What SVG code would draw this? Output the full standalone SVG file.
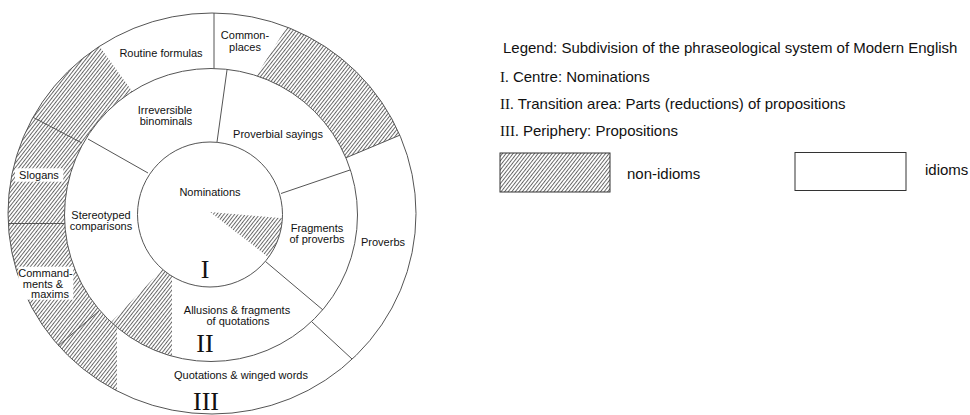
<svg xmlns="http://www.w3.org/2000/svg" width="970" height="415" viewBox="0 0 970 415">
<style>
.t{font-family:"Liberation Sans",Arial,sans-serif;font-size:11px;fill:#111;text-anchor:middle}
.r{font-family:"Liberation Serif","Times New Roman",serif;font-size:26px;fill:#111;text-anchor:middle}
.lg{font-family:"Liberation Sans",Arial,sans-serif;font-size:15px;fill:#111}
.sf{font-family:"Liberation Serif","Times New Roman",serif}
.ln{stroke:#555;stroke-width:1;fill:none}
.h{fill:url(#hatch);stroke:none}
</style>
<defs>
<pattern id="hatch" patternUnits="userSpaceOnUse" width="2.8" height="2.8" patternTransform="rotate(38)">
<rect width="2.8" height="2.8" fill="#fff"/>
<line x1="0.5" y1="0" x2="0.5" y2="2.8" stroke="#444" stroke-width="0.8"/>
</pattern>
</defs>
<rect width="970" height="415" fill="#fff"/>
<g id="hatched-areas">
<path class="h" d="M99.4,46.3 L132.3,91.4 A146.5,146.5 0 0 0 117,327.4 L117,390.9 A204,200.5 0 0 1 99.4,46.3 Z"/>
<path class="h" d="M162.4,269.2 A72.5,72.5 0 0 0 172,276.2 L172,356.2 A146.5,146.5 0 0 1 111.1,322.1 Z"/>
<path class="h" d="M286.8,27 L256.3,75.7 A146.5,146.5 0 0 1 345.9,157.8 L399.8,135.2 A204,200.5 0 0 0 286.8,27 Z"/>
<path class="h" d="M210,212 L282.4,218.3 A72.5,72.5 0 0 1 268.5,257.3 Z"/>
</g>
<g id="rings">
<ellipse class="ln" cx="212" cy="213.5" rx="204" ry="200.5"/>
<circle class="ln" cx="211" cy="215" r="146.5"/>
<circle class="ln" cx="210" cy="214.5" r="72.5"/>
</g>
<g id="connectors">
<line class="ln" x1="33" y1="117.3" x2="82" y2="143"/>
<line class="ln" x1="88" y1="139" x2="148" y2="173"/>
<line class="ln" x1="217" y1="142" x2="227" y2="70"/>
<line class="ln" x1="214" y1="13" x2="214" y2="68.5"/>
<line class="ln" x1="281" y1="193.5" x2="350" y2="170"/>
<line class="ln" x1="265.5" y1="261.5" x2="323" y2="310"/>
<line class="ln" x1="312" y1="322" x2="352" y2="359"/>
<line class="ln" x1="8.3" y1="223.5" x2="64.8" y2="223.5"/>
<line class="ln" x1="345.9" y1="157.8" x2="399.8" y2="135.2"/>
<line class="ln" x1="99" y1="311" x2="58" y2="346"/>
</g>
<g id="routine-formulas"><text class="t" x="161" y="57">Routine formulas</text></g>
<g id="commonplaces"><text class="t" x="245" y="39">Common-</text><text class="t" x="245" y="50.5">places</text></g>
<g id="irreversible-binominals"><text class="t" x="165" y="114">Irreversible</text><text class="t" x="166" y="125">binominals</text></g>
<g id="proverbial-sayings"><text class="t" x="278" y="138">Proverbial sayings</text></g>
<g id="slogans"><rect x="15" y="168.3" width="48.3" height="13.4" fill="#fff"/><text class="t" x="39" y="179">Slogans</text></g>
<g id="nominations"><text class="t" x="210" y="196">Nominations</text></g>
<g id="stereotyped-comparisons"><text class="t" x="101" y="219">Stereotyped</text><text class="t" x="101" y="230">comparisons</text></g>
<g id="fragments-of-proverbs"><text class="t" x="317" y="232">Fragments</text><text class="t" x="317" y="243">of proverbs</text></g>
<g id="proverbs"><text class="t" x="383" y="246">Proverbs</text></g>
<g id="commandments-maxims"><rect x="18.3" y="266.7" width="55" height="33" fill="#fff"/><text class="t" x="45.5" y="276.5">Command-</text><text class="t" x="43" y="287.5">ments &amp;</text><text class="t" x="50" y="298">maxims</text></g>
<g id="allusions"><text class="t" x="237" y="313.5">Allusions &amp; fragments</text><text class="t" x="238" y="324.5">of quotations</text></g>
<g id="quotations"><text class="t" x="241" y="378.5">Quotations &amp; winged words</text></g>
<g id="numerals"><text class="r" x="205" y="278">I</text><text class="r" x="205" y="352">II</text><text class="r" x="206" y="410">III</text></g>
<g id="legend">
<text class="lg" x="503" y="52.5">Legend: Subdivision of the phraseological system of Modern English</text>
<text class="lg" x="500" y="82"><tspan class="sf">I.</tspan> Centre: Nominations</text>
<text class="lg" x="500" y="109"><tspan class="sf">II.</tspan> Transition area: Parts (reductions) of propositions</text>
<text class="lg" x="500" y="136"><tspan class="sf">III.</tspan> Periphery: Propositions</text>
<rect x="500" y="153" width="110" height="39" fill="url(#hatch)" stroke="#333" stroke-width="1"/>
<text class="lg" x="627" y="179">non-idioms</text>
<rect x="795" y="152.5" width="111" height="38" fill="#fff" stroke="#333" stroke-width="1"/>
<text class="lg" x="925" y="175">idioms</text>
</g>
</svg>
